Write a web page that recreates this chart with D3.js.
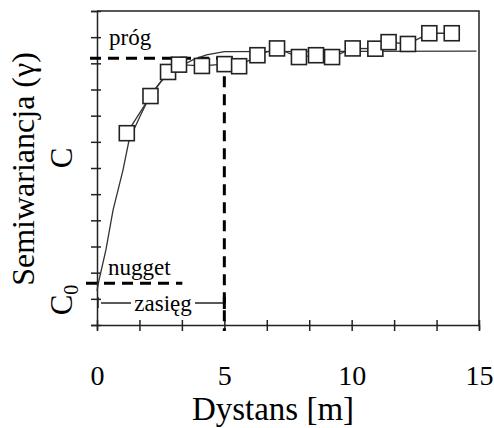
<!DOCTYPE html>
<html>
<head>
<meta charset="utf-8">
<script src="https://cdn.jsdelivr.net/npm/d3@7"></script>
<style>
  html, body { margin: 0; padding: 0; background: #fff; }
  svg { display: block; }
  text { font-family: "Liberation Serif", "DejaVu Serif", serif; fill: #000; }
</style>
</head>
<body>
<svg id="chart" width="494" height="428"></svg>
<script>
// ---- data ----
const lagX = [1.17, 2.10, 2.79, 3.22, 4.12, 5.01, 5.58, 6.30, 7.07, 7.93, 8.60, 9.23, 10.04, 10.93, 11.45, 12.21, 13.05, 13.93];
const gammaY = [7.33, 8.75, 9.67, 9.95, 9.90, 9.97, 9.89, 10.31, 10.57, 10.24, 10.31, 10.24, 10.57, 10.56, 10.81, 10.74, 11.15, 11.15];
const modelX = [0, 0.08, 0.35, 0.63, 1.02, 1.26, 1.7, 2.1, 2.5, 2.9, 3.3, 3.8, 4.3, 5.0, 14.9];
const modelY = [1.3, 1.72, 2.87, 4.39, 5.92, 7.07, 8.0, 8.8, 9.3, 9.65, 9.9, 10.15, 10.32, 10.45, 10.47];
const sill = 10.19;
const nugget = 1.6;
const range = 5;
const xTickValues = [0, 5/3, 10/3, 5, 20/3, 25/3, 10, 35/3, 40/3, 15];
const xTickLabels = [0, 5, 10, 15];
const yTickValues = [0, 1, 2, 3, 4, 5, 6, 7, 8, 9, 10, 11, 12];

// ---- layout ----
const svg = d3.select("#chart");
const L = 97, R = 479, T = 11, B = 325;
const x = d3.scaleLinear().domain([0, 15]).range([L, R]);
const y = d3.scaleLinear().domain([0, 12]).range([B, T]);

// frame (top + right)
svg.append("path")
  .attr("d", `M${L},${T}H${R}V${B}`)
  .attr("fill", "none").attr("stroke", "#222").attr("stroke-width", 1.5);

// x axis with crossing ticks
const gx = svg.append("g").attr("transform", `translate(0,${B})`)
  .call(d3.axisBottom(x).tickValues(xTickValues).tickSize(5).tickFormat(""));
gx.select(".domain").attr("stroke", "#222").attr("stroke-width", 1.5);
gx.selectAll(".tick line").attr("y1", -5).attr("y2", 6).attr("stroke", "#222").attr("stroke-width", 1.5);

// x tick labels
const gxl = svg.append("g").attr("transform", `translate(0,${B})`)
  .call(d3.axisBottom(x).tickValues(xTickLabels).tickSize(0).tickPadding(40).tickFormat(d3.format("d")));
gxl.select(".domain").remove();
gxl.selectAll("text").style("font-size", "28px").style("font-family", '"Liberation Serif", serif').attr("fill", "#000");

// y axis with crossing ticks
const gy = svg.append("g").attr("transform", `translate(${L},0)`)
  .call(d3.axisLeft(y).tickValues(yTickValues).tickSize(6).tickFormat(""));
gy.select(".domain").attr("stroke", "#222").attr("stroke-width", 1.5);
gy.selectAll(".tick line").attr("x1", -6).attr("x2", 4).attr("stroke", "#222").attr("stroke-width", 1.5);

// axis titles
svg.append("text").attr("x", 273).attr("y", 420).attr("text-anchor", "middle")
  .style("font-size", "33px").text("Dystans [m]");
svg.append("text").attr("transform", `translate(34,169) rotate(-90)`).attr("text-anchor", "middle")
  .style("font-size", "32px").text("Semiwariancja (γ)");
svg.append("text").attr("transform", `translate(72,158) rotate(-90)`).attr("text-anchor", "middle")
  .style("font-size", "31px").text("C");
const c0 = svg.append("text").attr("transform", `translate(72,300) rotate(-90)`).attr("text-anchor", "middle")
  .style("font-size", "31px");
c0.append("tspan").text("C");
c0.append("tspan").attr("dy", 6).style("font-size", "20px").text("0");

// dashed reference lines
const dash = { "stroke": "#000", "stroke-width": 3, "stroke-dasharray": "11,7", "fill": "none" };
function dl(x1, y1, x2, y2) {
  const l = svg.append("line").attr("x1", x1).attr("y1", y1).attr("x2", x2).attr("y2", y2);
  Object.entries(dash).forEach(([k, v]) => l.attr(k, v));
  return l;
}
dl(L - 7, y(sill), x(range), y(sill));
dl(x(range), y(sill), x(range), B + 6);
dl(L - 11, y(nugget), x(3.35), y(nugget));

// model curve
const line = d3.line().x(d => x(d[0])).y(d => y(d[1]));
svg.append("path").datum(modelX.map((v, i) => [v, modelY[i]]))
  .attr("d", line).attr("fill", "none").attr("stroke", "#333").attr("stroke-width", 1.3);

// empirical line
svg.append("path").datum(lagX.map((v, i) => [v, gammaY[i]]))
  .attr("d", line).attr("fill", "none").attr("stroke", "#333").attr("stroke-width", 1.3);

// squares
const s = 15;
svg.append("g").selectAll("rect").data(lagX.map((v, i) => [v, gammaY[i]])).join("rect")
  .attr("x", d => x(d[0]) - s / 2).attr("y", d => y(d[1]) - s / 2)
  .attr("width", s).attr("height", s)
  .attr("fill", "#fff").attr("stroke", "#222").attr("stroke-width", 1.6);

// annotations
svg.append("text").attr("x", 109).attr("y", 45).style("font-size", "23px").text("próg");
svg.append("text").attr("x", 108).attr("y", 275).style("font-size", "23px").text("nugget");
svg.append("text").attr("x", 163).attr("y", 311).attr("text-anchor", "middle").style("font-size", "23px").text("zasięg");
// range dimension line
svg.append("line").attr("x1", x(0) + 4).attr("x2", 131).attr("y1", 303).attr("y2", 303).attr("stroke", "#222").attr("stroke-width", 1.5);
svg.append("line").attr("x1", 195).attr("x2", x(range)).attr("y1", 303).attr("y2", 303).attr("stroke", "#222").attr("stroke-width", 1.5);
svg.append("line").attr("x1", x(0) + 1).attr("x2", x(0) + 1).attr("y1", 297).attr("y2", 308).attr("stroke", "#222").attr("stroke-width", 1.5);
svg.append("line").attr("x1", x(range)).attr("x2", x(range)).attr("y1", 297).attr("y2", 309).attr("stroke", "#000").attr("stroke-width", 3);
</script>
</body>
</html>
